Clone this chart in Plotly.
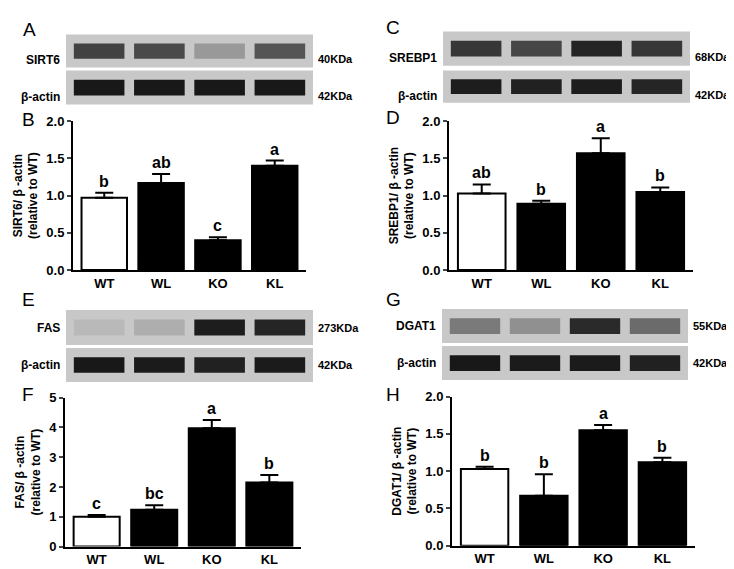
import plotly.graph_objects as go

W, H = 734, 569
groups = ["WT", "WL", "KO", "KL"]

# quantified bands (relative to WT)
sirt6 = [0.97, 1.17, 0.40, 1.40]
sirt6_err = [0.07, 0.12, 0.04, 0.07]
sirt6_sig = ["b", "ab", "c", "a"]
srebp1 = [1.03, 0.89, 1.57, 1.05]
srebp1_err = [0.12, 0.04, 0.20, 0.06]
srebp1_sig = ["ab", "b", "a", "b"]
fas = [1.00, 1.24, 3.97, 2.15]
fas_err = [0.06, 0.15, 0.28, 0.25]
fas_sig = ["c", "bc", "a", "b"]
dgat1 = [1.03, 0.67, 1.55, 1.12]
dgat1_err = [0.03, 0.29, 0.07, 0.06]
dgat1_sig = ["b", "b", "a", "b"]

# band darkness on the blots (0 = none, 1 = black)
sirt6_band = [0.72, 0.68, 0.25, 0.62]
srebp1_band = [0.78, 0.7, 0.88, 0.78]
fas_band = [0.08, 0.14, 0.92, 0.88]
dgat1_band = [0.42, 0.3, 0.85, 0.5]
actin_a = [0.95, 0.95, 0.95, 0.95]
actin_c = [0.92, 0.9, 0.92, 0.88]
actin_e = [0.95, 0.93, 0.9, 0.93]
actin_g = [0.95, 0.93, 0.93, 0.9]

FONT = "Liberation Sans, Arial"
BG = 200


def gray(d):
    v = int(BG - d * (BG - 15))
    return f"rgb({v},{v},{v})"


def px_x(a, b):
    return [a / W, b / W]


def px_y(top, bot):
    return [1 - bot / H, 1 - top / H]


fig = go.Figure()
layout = {}
annotations = []
shapes = []
n = [0]


def new_axes():
    n[0] += 1
    return "" if n[0] == 1 else str(n[0])


def blot(band, xd, yd, name, kda):
    suf = new_axes()
    fig.add_trace(go.Bar(x=list(range(4)), y=[0.46] * 4, base=0.27, width=0.84,
                         marker=dict(color=[gray(d) for d in band], line=dict(width=0)),
                         xaxis="x" + suf, yaxis="y" + suf, showlegend=False, hoverinfo="skip"))
    layout["xaxis" + suf] = dict(domain=xd, range=[-0.55, 3.55], visible=False, anchor="y" + suf)
    layout["yaxis" + suf] = dict(domain=yd, range=[0, 1], visible=False, anchor="x" + suf)
    shapes.append(dict(type="rect", xref="paper", yref="paper", x0=xd[0], x1=xd[1], y0=yd[0], y1=yd[1],
                       fillcolor=f"rgb({BG},{BG},{BG})", line=dict(width=0), layer="below"))
    annotations.append(dict(text=f"<b>{name}</b>", x=xd[0] - 4 / W, y=sum(yd) / 2, xref="paper", yref="paper",
                            xanchor="right", showarrow=False, font=dict(size=12, family=FONT, color="black")))
    annotations.append(dict(text=f"<b>{kda}</b>", x=xd[1] + 3 / W, y=sum(yd) / 2, xref="paper", yref="paper",
                            xanchor="left", showarrow=False, font=dict(size=11, family=FONT, color="black")))


def bars(vals, errs, sig, xd, yd, ymax, dtick, ytitle):
    suf = new_axes()
    fig.add_trace(go.Bar(x=groups, y=vals, width=0.8,
                         marker=dict(color=["white", "black", "black", "black"], line=dict(color="black", width=2)),
                         error_y=dict(type="data", symmetric=False, array=errs, arrayminus=[0] * 4,
                                      color="black", thickness=2, width=9),
                         xaxis="x" + suf, yaxis="y" + suf, showlegend=False))
    layout["xaxis" + suf] = dict(domain=xd, anchor="y" + suf, range=[-0.55, 3.55], showline=True,
                                 linecolor="black", linewidth=2, ticks="",
                                 tickfont=dict(size=13, family=FONT, weight="bold", color="black"))
    fmt = ".1f" if dtick < 1 else "d"
    layout["yaxis" + suf] = dict(domain=yd, anchor="x" + suf, range=[0, ymax], dtick=dtick, tickformat=fmt,
                                 showline=True, linecolor="black", linewidth=2, ticks="outside", ticklen=4,
                                 tickwidth=2, showgrid=False, zeroline=False,
                                 tickfont=dict(size=13, family=FONT, weight="bold", color="black"),
                                 title=dict(text=ytitle, standoff=6,
                                            font=dict(size=12, family=FONT, weight="bold", color="black")))
    for g, v, e, s in zip(groups, vals, errs, sig):
        annotations.append(dict(text=f"<b>{s}</b>", x=g, y=v + e, xref="x" + suf, yref="y" + suf,
                                yanchor="bottom", yshift=1, showarrow=False,
                                font=dict(size=16, family=FONT, color="black")))


# left column
blot(sirt6_band, px_x(58, 305), px_y(20, 54), "SIRT6", "40KDa")
blot(actin_a, px_x(58, 305), px_y(57, 92), "β-actin", "42KDa")
bars(sirt6, sirt6_err, sirt6_sig, px_x(65, 298), px_y(109, 262), 2.0, 0.5, "SIRT6/ β -actin<br>(relative to WT)")
blot(fas_band, px_x(58, 305), px_y(303, 339), "FAS", "273KDa")
blot(actin_e, px_x(58, 305), px_y(342, 377), "β-actin", "42KDa")
bars(fas, fas_err, fas_sig, px_x(57, 293), px_y(393, 546), 5, 1, "FAS/ β -actin<br>(relative to WT)")
# right column
blot(srebp1_band, px_x(435, 682), px_y(17, 52), "SREBP1", "68KDa")
blot(actin_c, px_x(435, 682), px_y(57, 90), "β-actin", "42KDa")
bars(srebp1, srebp1_err, srebp1_sig, px_x(441, 685), px_y(109, 262), 2.0, 0.5, "SREBP1/ β -actin<br>(relative to WT)")
blot(dgat1_band, px_x(434, 680), px_y(302, 337), "DGAT1", "55KDa")
blot(actin_g, px_x(434, 680), px_y(340, 375), "β-actin", "42KDa")
bars(dgat1, dgat1_err, dgat1_sig, px_x(444, 687), px_y(392, 545), 2.0, 0.5, "DGAT1/ β -actin<br>(relative to WT)")

for lab, x, y in [("A", 13, 15), ("B", 12, 107), ("C", 376, 13), ("D", 376, 105),
                  ("E", 12, 292), ("F", 12, 390), ("G", 376, 292), ("H", 376, 390)]:
    annotations.append(dict(text=lab, x=x / W, y=1 - y / H, xref="paper", yref="paper", xanchor="left",
                            yanchor="middle", showarrow=False, font=dict(size=19, family=FONT, color="black")))

fig.update_layout(width=W, height=H, margin=dict(l=0, r=0, t=0, b=0), plot_bgcolor="white",
                  paper_bgcolor="white", annotations=annotations, shapes=shapes, bargap=0.2, **layout)
fig.write_html("out.html")
